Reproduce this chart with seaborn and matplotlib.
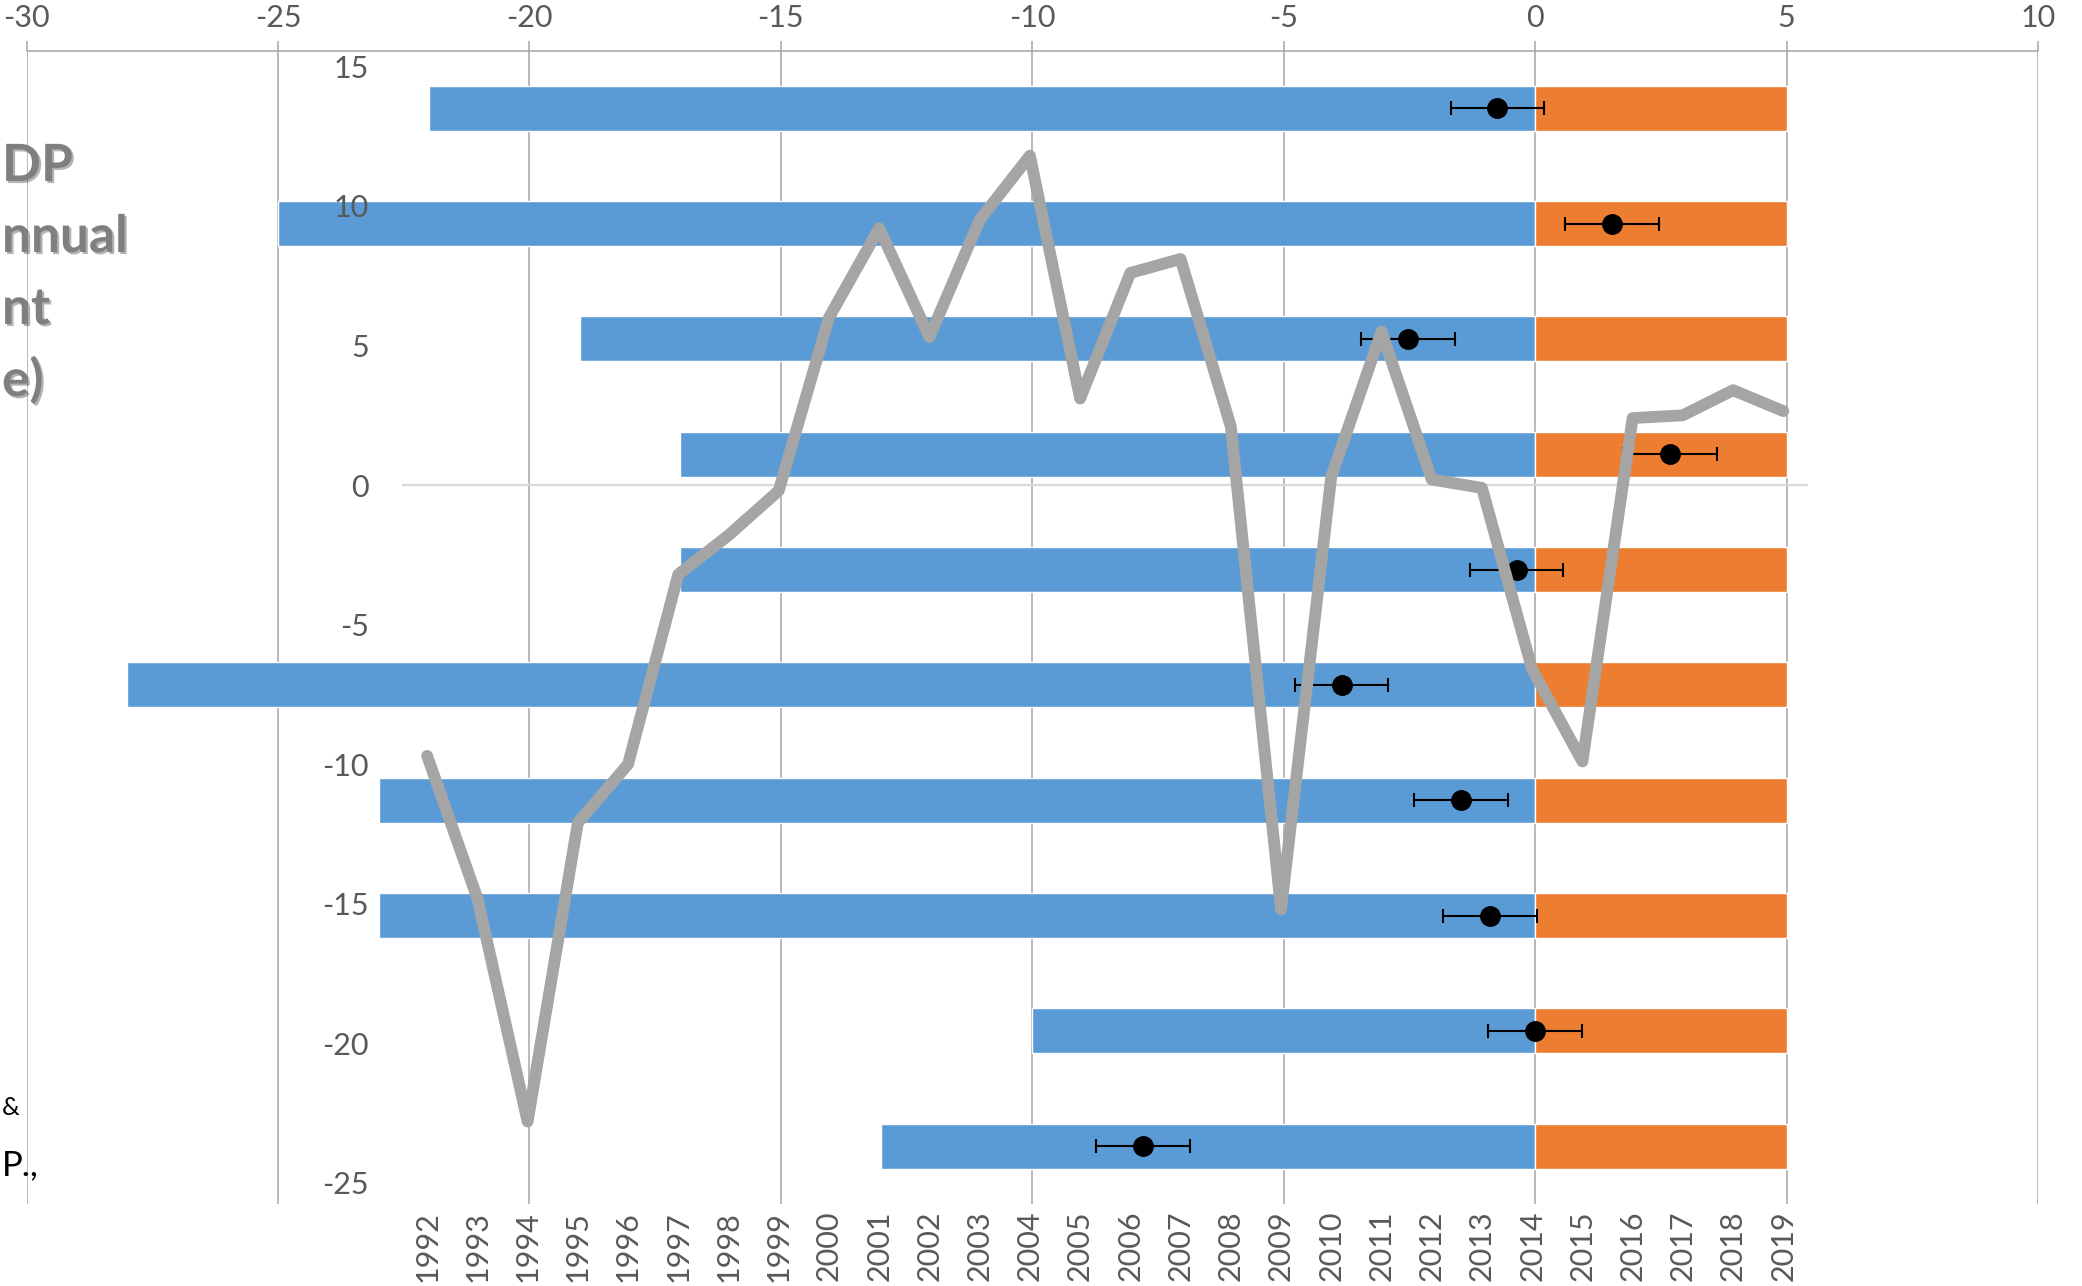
import numpy as np
import pandas as pd
import matplotlib
matplotlib.use('Agg')
import matplotlib.pyplot as plt
import matplotlib.patheffects as pe
import seaborn as sns

# bar rows (top to bottom), values on the top axis
rows = ["r1", "r2", "r3", "r4", "r5", "r6", "r7", "r8", "r9", "r10"]
blue_start = [-22, -25, -19, -17, -17, -28, -23, -23, -10, -13]
orange_end = [5, 5, 5, 5, 5, 5, 5, 5, 5, 5]
dot_value = [-0.75, 1.53, -2.53, 2.68, -0.37, -3.85, -1.48, -0.9, 0.0, -7.8]
dot_err = [0.93, 0.93, 0.93, 0.93, 0.93, 0.93, 0.93, 0.93, 0.93, 0.93]

# gdp line, left axis
years = [1992, 1993, 1994, 1995, 1996, 1997, 1998, 1999, 2000, 2001,
         2002, 2003, 2004, 2005, 2006, 2007, 2008, 2009, 2010, 2011,
         2012, 2013, 2014, 2015, 2016, 2017, 2018, 2019]
gdp = [-9.7, -14.8, -22.8, -12.1, -10.0, -3.2, -1.8, -0.2, 6.0, 9.2,
       5.3, 9.5, 11.8, 3.1, 7.6, 8.1, 2.1, -15.2, 0.3, 5.5,
       0.2, -0.1, -6.6, -9.9, 2.4, 2.5, 3.4, 2.65]

top_ticks = [-30, -25, -20, -15, -10, -5, 0, 5, 10]
left_ticks = [-25, -20, -15, -10, -5, 0, 5, 10, 15]

# text fragments visible at the left edge
title_bits = ["DP", "nnual", "nt", "e)"]
note_bits = ["&", "P.,"]

BLUE = '#5B9BD5'
ORANGE = '#ED7D31'
LINE = '#A5A5A5'
GRID = '#A6A6A6'
TXT = '#595959'

sns.set_theme(style='white')
plt.rcParams['font.family'] = ['Lato', 'DejaVu Sans']

W, H = 2082, 1286
fig = plt.figure(figsize=(W / 100, H / 100), dpi=100)

# --- bar chart on the top axis ---
ax_bar = fig.add_axes([0.01278, 0.0638, 0.9661, 0.8969])
df = pd.DataFrame({'row': rows, 'blue': blue_start, 'orange': orange_end})
sns.barplot(data=df, x='blue', y='row', orient='h', color=BLUE, width=0.39,
            saturation=1, errorbar=None, ax=ax_bar, zorder=2)
sns.barplot(data=df, x='orange', y='row', orient='h', color=ORANGE, width=0.39,
            saturation=1, errorbar=None, ax=ax_bar, zorder=2)
ax_bar.errorbar(dot_value, np.arange(len(rows)), xerr=dot_err, fmt='o', color='black',
                ms=14, elinewidth=1.5, capsize=4.7, capthick=1.5, zorder=3)

ax_bar.set_xlim(-30, 10)
ax_bar.set_ylim(len(rows) - 0.5, -0.5)
ax_bar.set_xticks(top_ticks)
ax_bar.set_xticklabels([str(t) for t in top_ticks])
ax_bar.xaxis.tick_top()
ax_bar.tick_params(axis='x', top=True, bottom=False, length=7, width=1.1, color=GRID,
                   labelsize=22, labelcolor=TXT, pad=6)
for lbl in ax_bar.get_xticklabels():
    lbl.set_fontfamily(['Liberation Sans Narrow', 'Lato'])
ax_bar.set_yticks([])
ax_bar.set_xlabel('')
ax_bar.set_ylabel('')
ax_bar.grid(axis='x', color=GRID, lw=1.1)
ax_bar.set_axisbelow(True)
for side in ['left', 'right', 'bottom']:
    ax_bar.spines[side].set_visible(False)
ax_bar.spines['top'].set_color(GRID)
ax_bar.spines['top'].set_linewidth(1.1)

# --- gdp line on its own axes ---
ax_line = fig.add_axes([0.1931, 0.0801, 0.6755, 0.8683])
ax_line.patch.set_alpha(0)
ax_line.axhline(0, color='#D9D9D9', lw=1.6, zorder=0)
sns.lineplot(x=years, y=gdp, color=LINE, lw=8.5, solid_joinstyle='round',
             solid_capstyle='round', ax=ax_line)
ax_line.set_xlim(years[0] - 0.5, years[-1] + 0.5)
ax_line.set_ylim(-25, 15)
ax_line.set_xticks(years)
ax_line.set_xticklabels([str(y) for y in years], rotation=90)
ax_line.set_yticks(left_ticks)
ax_line.set_yticklabels([str(t) for t in left_ticks])
ax_line.tick_params(axis='y', length=0, labelsize=22, labelcolor=TXT, pad=24)
ax_line.tick_params(axis='x', length=0, labelsize=22, labelcolor=TXT, pad=20)
for side in ax_line.spines:
    ax_line.spines[side].set_visible(False)

# --- text fragments at the left edge ---
shadow = [pe.withSimplePatchShadow(offset=(1.5, -1.5), alpha=0.35)]
for word, yb in zip(title_bits, [181, 252, 324, 396]):
    fig.text(2 / W, 1 - yb / H, word, ha='left', va='baseline', fontsize=37,
             fontweight='bold', color='#7F7F7F', path_effects=shadow)
for word, yb, size in zip(note_bits, [1115, 1175], [18, 25]):
    fig.text(2 / W, 1 - yb / H, word, ha='left', va='baseline', fontsize=size, color='black')

fig.savefig('out.png', dpi=100)
